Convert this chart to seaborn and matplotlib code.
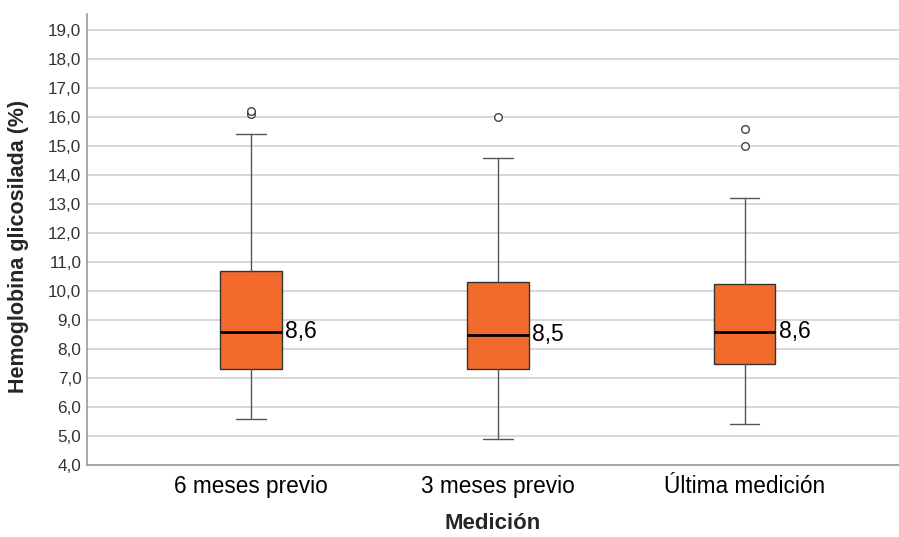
import numpy as np
import matplotlib
matplotlib.use("Agg")
import matplotlib.pyplot as plt
import seaborn as sns

# Data (five-number summary per group + outliers)

categories = ["6 meses previo", "3 meses previo", "Última medición"]
whisker_low = [5.6, 4.9, 5.4]
q1 = [7.3, 7.3, 7.5]
median = [8.6, 8.5, 8.6]
q3 = [10.7, 10.3, 10.25]
whisker_high = [15.4, 14.6, 13.2]
outliers = [[16.1, 16.2], [16.0], [15.0, 15.6]]
median_labels = ["8,6", "8,5", "8,6"]
y_ticks = np.arange(4, 20, 1)

# Style

sns.set_style("white")
plt.rcParams["font.family"] = ["Liberation Sans", "DejaVu Sans"]

box_color = "#F26A2C"

stats = []
for i in range(len(categories)):
    stats.append({
        "label": categories[i],
        "whislo": whisker_low[i],
        "q1": q1[i],
        "med": median[i],
        "q3": q3[i],
        "whishi": whisker_high[i],
        "fliers": outliers[i],
    })

fig = plt.figure(figsize=(8.99, 5.37), dpi=100)
ax = fig.add_axes([0.0968, 0.134, 0.903, 0.84])

# Grid lines behind the boxes
for t in y_ticks:
    ax.axhline(t, color="#d4d4d4", linewidth=1.3, zorder=0)

positions = np.arange(len(categories))
ax.bxp(
    stats,
    positions=positions,
    widths=0.25,
    patch_artist=True,
    boxprops=dict(facecolor=box_color, edgecolor="#333333", linewidth=1.0),
    medianprops=dict(color="black", linewidth=2.0),
    whiskerprops=dict(color="#555555", linewidth=1.0),
    capprops=dict(color="#555555", linewidth=1.0),
    capwidths=0.12,
    flierprops=dict(marker="o", markersize=5.5, markerfacecolor="white",
                    markeredgecolor="#444444", markeredgewidth=1.0),
    zorder=3,
)

# Median labels next to each box
for i in range(len(categories)):
    ax.text(positions[i] + 0.138, median[i], median_labels[i],
            fontsize=16.5, va="center", ha="left", color="black", zorder=4)

ax.set_xlim(-0.664, 2.625)
ax.set_ylim(4, 19.55)
ax.set_yticks(y_ticks)
ax.set_yticklabels([f"{v:.1f}".replace(".", ",") for v in y_ticks],
                   fontsize=12.3, color="#333333")
ax.set_xticks(positions)
ax.set_xticklabels(categories, fontsize=16.3, color="black")
ax.tick_params(axis="y", length=0, pad=4)
ax.tick_params(axis="x", length=0, pad=7)

ax.set_ylabel("Hemoglobina glicosilada (%)", fontsize=15.5, fontweight="bold")
ax.yaxis.set_label_coords(-0.0715, 0.485)
ax.set_xlabel("Medición", fontsize=16, fontweight="bold", labelpad=11)

sns.despine(ax=ax, top=True, right=True)
ax.spines["left"].set_color("#999999")
ax.spines["bottom"].set_color("#999999")
ax.spines["left"].set_linewidth(1.2)
ax.spines["bottom"].set_linewidth(1.2)

fig.savefig("out.png", dpi=100)
